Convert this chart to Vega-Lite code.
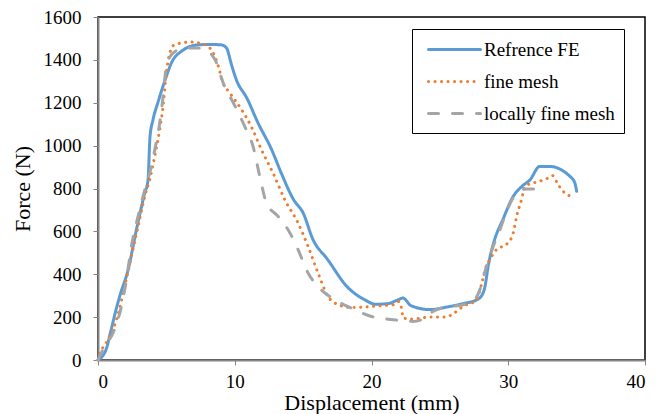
{
  "$schema": "https://vega.github.io/schema/vega-lite/v6.json",
  "autosize": "none",
  "width": 547,
  "height": 343,
  "padding": {"left": 98, "top": 17, "right": 22, "bottom": 54},
  "background": "white",
  "config": {
    "view": {"stroke": "black", "strokeWidth": 1.5},
    "font": "Liberation Serif",
    "axis": {"labelFont": "Liberation Serif", "titleFont": "Liberation Serif"},
    "legend": {"labelFont": "Liberation Serif"}
  },
  "datasets": {
    "all": [
      {"s": "Refrence FE", "x": 0, "y": 0},
      {"s": "Refrence FE", "x": 0.6, "y": 50},
      {"s": "Refrence FE", "x": 0.9, "y": 125},
      {"s": "Refrence FE", "x": 1.3, "y": 230},
      {"s": "Refrence FE", "x": 1.6, "y": 300},
      {"s": "Refrence FE", "x": 2.2, "y": 420},
      {"s": "Refrence FE", "x": 2.8, "y": 605},
      {"s": "Refrence FE", "x": 3.4, "y": 775},
      {"s": "Refrence FE", "x": 3.66, "y": 840},
      {"s": "Refrence FE", "x": 3.72, "y": 920},
      {"s": "Refrence FE", "x": 3.8, "y": 1040},
      {"s": "Refrence FE", "x": 4.02, "y": 1120},
      {"s": "Refrence FE", "x": 4.4, "y": 1205},
      {"s": "Refrence FE", "x": 4.9, "y": 1305},
      {"s": "Refrence FE", "x": 5.4, "y": 1390},
      {"s": "Refrence FE", "x": 6.1, "y": 1440},
      {"s": "Refrence FE", "x": 7.3, "y": 1470},
      {"s": "Refrence FE", "x": 8.2, "y": 1472},
      {"s": "Refrence FE", "x": 9.0, "y": 1470},
      {"s": "Refrence FE", "x": 9.4, "y": 1455},
      {"s": "Refrence FE", "x": 9.75, "y": 1380},
      {"s": "Refrence FE", "x": 10.1, "y": 1310},
      {"s": "Refrence FE", "x": 10.9, "y": 1220},
      {"s": "Refrence FE", "x": 11.7, "y": 1106},
      {"s": "Refrence FE", "x": 12.7, "y": 981},
      {"s": "Refrence FE", "x": 13.4, "y": 872},
      {"s": "Refrence FE", "x": 14.3, "y": 748},
      {"s": "Refrence FE", "x": 15.0, "y": 686},
      {"s": "Refrence FE", "x": 15.7, "y": 565},
      {"s": "Refrence FE", "x": 16.8, "y": 468},
      {"s": "Refrence FE", "x": 18.2, "y": 343},
      {"s": "Refrence FE", "x": 19.5, "y": 281},
      {"s": "Refrence FE", "x": 20.3, "y": 260},
      {"s": "Refrence FE", "x": 21.2, "y": 263},
      {"s": "Refrence FE", "x": 21.95, "y": 281},
      {"s": "Refrence FE", "x": 22.3, "y": 289},
      {"s": "Refrence FE", "x": 22.9, "y": 253},
      {"s": "Refrence FE", "x": 24.3, "y": 235},
      {"s": "Refrence FE", "x": 25.5, "y": 247},
      {"s": "Refrence FE", "x": 26.7, "y": 263},
      {"s": "Refrence FE", "x": 27.7, "y": 281},
      {"s": "Refrence FE", "x": 28.1, "y": 305},
      {"s": "Refrence FE", "x": 28.3, "y": 343},
      {"s": "Refrence FE", "x": 28.53, "y": 437},
      {"s": "Refrence FE", "x": 28.7, "y": 490},
      {"s": "Refrence FE", "x": 29.0, "y": 561},
      {"s": "Refrence FE", "x": 29.6, "y": 654},
      {"s": "Refrence FE", "x": 30.36, "y": 763},
      {"s": "Refrence FE", "x": 31.0, "y": 810},
      {"s": "Refrence FE", "x": 31.6, "y": 841},
      {"s": "Refrence FE", "x": 32.3, "y": 903},
      {"s": "Refrence FE", "x": 33.0, "y": 903},
      {"s": "Refrence FE", "x": 34.5, "y": 857},
      {"s": "Refrence FE", "x": 34.87, "y": 826},
      {"s": "Refrence FE", "x": 35.0, "y": 787},
      {"s": "fine mesh", "x": 0, "y": 0},
      {"s": "fine mesh", "x": 0.12, "y": 25},
      {"s": "fine mesh", "x": 0.73, "y": 95},
      {"s": "fine mesh", "x": 1.35, "y": 188},
      {"s": "fine mesh", "x": 1.95, "y": 343},
      {"s": "fine mesh", "x": 2.44, "y": 483},
      {"s": "fine mesh", "x": 2.93, "y": 623},
      {"s": "fine mesh", "x": 3.42, "y": 763},
      {"s": "fine mesh", "x": 3.78, "y": 841},
      {"s": "fine mesh", "x": 4.15, "y": 950},
      {"s": "fine mesh", "x": 4.51, "y": 1074},
      {"s": "fine mesh", "x": 4.76, "y": 1183},
      {"s": "fine mesh", "x": 5.0, "y": 1339},
      {"s": "fine mesh", "x": 5.25, "y": 1432},
      {"s": "fine mesh", "x": 5.6, "y": 1471},
      {"s": "fine mesh", "x": 6.8, "y": 1483},
      {"s": "fine mesh", "x": 7.8, "y": 1471},
      {"s": "fine mesh", "x": 8.4, "y": 1435},
      {"s": "fine mesh", "x": 8.8, "y": 1370},
      {"s": "fine mesh", "x": 9.1, "y": 1300},
      {"s": "fine mesh", "x": 9.65, "y": 1245},
      {"s": "fine mesh", "x": 10.5, "y": 1168},
      {"s": "fine mesh", "x": 11.2, "y": 1090},
      {"s": "fine mesh", "x": 11.95, "y": 981},
      {"s": "fine mesh", "x": 12.8, "y": 872},
      {"s": "fine mesh", "x": 13.66, "y": 748},
      {"s": "fine mesh", "x": 14.63, "y": 639},
      {"s": "fine mesh", "x": 15.36, "y": 530},
      {"s": "fine mesh", "x": 16.09, "y": 406},
      {"s": "fine mesh", "x": 16.82, "y": 297},
      {"s": "fine mesh", "x": 17.56, "y": 258},
      {"s": "fine mesh", "x": 18.5, "y": 245},
      {"s": "fine mesh", "x": 19.4, "y": 247},
      {"s": "fine mesh", "x": 20.6, "y": 253},
      {"s": "fine mesh", "x": 21.6, "y": 258},
      {"s": "fine mesh", "x": 21.95, "y": 273},
      {"s": "fine mesh", "x": 22.19, "y": 243},
      {"s": "fine mesh", "x": 22.31, "y": 196},
      {"s": "fine mesh", "x": 23.04, "y": 191},
      {"s": "fine mesh", "x": 24.27, "y": 201},
      {"s": "fine mesh", "x": 25.49, "y": 201},
      {"s": "fine mesh", "x": 25.97, "y": 216},
      {"s": "fine mesh", "x": 26.7, "y": 250},
      {"s": "fine mesh", "x": 27.68, "y": 281},
      {"s": "fine mesh", "x": 28.05, "y": 355},
      {"s": "fine mesh", "x": 28.35, "y": 430},
      {"s": "fine mesh", "x": 28.65, "y": 468},
      {"s": "fine mesh", "x": 29.14, "y": 515},
      {"s": "fine mesh", "x": 29.88, "y": 540},
      {"s": "fine mesh", "x": 30.36, "y": 592},
      {"s": "fine mesh", "x": 30.61, "y": 670},
      {"s": "fine mesh", "x": 30.97, "y": 748},
      {"s": "fine mesh", "x": 31.22, "y": 810},
      {"s": "fine mesh", "x": 31.95, "y": 828},
      {"s": "fine mesh", "x": 32.8, "y": 845},
      {"s": "fine mesh", "x": 33.24, "y": 860},
      {"s": "fine mesh", "x": 33.65, "y": 818},
      {"s": "fine mesh", "x": 34.14, "y": 779},
      {"s": "fine mesh", "x": 34.63, "y": 763},
      {"s": "locally fine mesh", "x": 0, "y": 0},
      {"s": "locally fine mesh", "x": 0.49, "y": 64},
      {"s": "locally fine mesh", "x": 1.1, "y": 126},
      {"s": "locally fine mesh", "x": 1.71, "y": 250},
      {"s": "locally fine mesh", "x": 2.08, "y": 374},
      {"s": "locally fine mesh", "x": 2.44, "y": 530},
      {"s": "locally fine mesh", "x": 2.93, "y": 670},
      {"s": "locally fine mesh", "x": 3.42, "y": 794},
      {"s": "locally fine mesh", "x": 3.78, "y": 872},
      {"s": "locally fine mesh", "x": 4.15, "y": 981},
      {"s": "locally fine mesh", "x": 4.51, "y": 1106},
      {"s": "locally fine mesh", "x": 4.76, "y": 1230},
      {"s": "locally fine mesh", "x": 5.0, "y": 1370},
      {"s": "locally fine mesh", "x": 5.49, "y": 1432},
      {"s": "locally fine mesh", "x": 6.34, "y": 1455},
      {"s": "locally fine mesh", "x": 7.32, "y": 1455},
      {"s": "locally fine mesh", "x": 8.05, "y": 1440},
      {"s": "locally fine mesh", "x": 8.6, "y": 1395},
      {"s": "locally fine mesh", "x": 9.2, "y": 1285},
      {"s": "locally fine mesh", "x": 9.9, "y": 1199},
      {"s": "locally fine mesh", "x": 10.73, "y": 1090},
      {"s": "locally fine mesh", "x": 11.34, "y": 996},
      {"s": "locally fine mesh", "x": 11.83, "y": 857},
      {"s": "locally fine mesh", "x": 12.32, "y": 732},
      {"s": "locally fine mesh", "x": 13.17, "y": 670},
      {"s": "locally fine mesh", "x": 13.9, "y": 608},
      {"s": "locally fine mesh", "x": 14.63, "y": 515},
      {"s": "locally fine mesh", "x": 15.36, "y": 406},
      {"s": "locally fine mesh", "x": 16.09, "y": 343},
      {"s": "locally fine mesh", "x": 17.32, "y": 281},
      {"s": "locally fine mesh", "x": 18.6, "y": 240},
      {"s": "locally fine mesh", "x": 20.0, "y": 203},
      {"s": "locally fine mesh", "x": 21.58, "y": 188},
      {"s": "locally fine mesh", "x": 23.04, "y": 180},
      {"s": "locally fine mesh", "x": 23.77, "y": 191},
      {"s": "locally fine mesh", "x": 24.51, "y": 227},
      {"s": "locally fine mesh", "x": 25.49, "y": 247},
      {"s": "locally fine mesh", "x": 26.7, "y": 258},
      {"s": "locally fine mesh", "x": 27.43, "y": 273},
      {"s": "locally fine mesh", "x": 27.92, "y": 328},
      {"s": "locally fine mesh", "x": 28.41, "y": 437},
      {"s": "locally fine mesh", "x": 28.9, "y": 530},
      {"s": "locally fine mesh", "x": 29.26, "y": 585},
      {"s": "locally fine mesh", "x": 29.75, "y": 670},
      {"s": "locally fine mesh", "x": 30.36, "y": 756},
      {"s": "locally fine mesh", "x": 31.34, "y": 798},
      {"s": "locally fine mesh", "x": 32.19, "y": 798}
    ]
  },
  "data": {"name": "all"},
  "mark": {"type": "line", "interpolate": "monotone", "strokeWidth": 3, "strokeCap": "round"},
  "encoding": {
    "x": {
      "field": "x", "type": "quantitative",
      "scale": {"domain": [0, 40], "nice": false},
      "axis": {
        "title": "Displacement (mm)", "values": [0, 10, 20, 30, 40], "format": "d", "grid": false,
        "domainColor": "#868686", "domainWidth": 2, "tickColor": "#868686", "tickWidth": 1, "tickSize": 5,
        "labelFont": "Liberation Serif", "labelFontSize": 19, "labelColor": "black", "labelPadding": 7,
        "titleFont": "Liberation Serif", "titleFontSize": 22, "titleFontWeight": "normal", "titleColor": "black", "titlePadding": 1
      }
    },
    "y": {
      "field": "y", "type": "quantitative",
      "scale": {"domain": [0, 1600], "nice": false},
      "axis": {
        "title": "Force (N)", "values": [0, 200, 400, 600, 800, 1000, 1200, 1400, 1600], "format": "d", "grid": false,
        "domainColor": "#868686", "domainWidth": 2, "tickColor": "#868686", "tickWidth": 1, "tickSize": 5,
        "labelFont": "Liberation Serif", "labelFontSize": 19, "labelColor": "black", "labelPadding": 12,
        "titleFont": "Liberation Serif", "titleFontSize": 22, "titleFontWeight": "normal", "titleColor": "black", "titlePadding": 9
      }
    },
    "color": {
      "field": "s", "type": "nominal", "title": null,
      "sort": ["Refrence FE", "fine mesh", "locally fine mesh"],
      "scale": {"domain": ["Refrence FE", "fine mesh", "locally fine mesh"], "range": ["#5B9BD5", "#ED7D31", "#A5A5A5"]},
      "legend": {
        "orient": "none", "legendX": 314, "legendY": 12,
        "fillColor": "white", "strokeColor": "black", "padding": 9,
        "symbolType": "M-2.6,0H2.6", "symbolSize": 400, "symbolStrokeWidth": 3, "symbolOffset": 22,
        "labelFont": "Liberation Serif", "labelFontSize": 19, "labelColor": "black", "labelOffset": 18,
        "rowPadding": 10, "labelLimit": 300,
        "encode": {"symbols": {"update": {"strokeCap": {"value": "round"}}}}
      }
    },
    "strokeDash": {
      "field": "s", "type": "nominal", "title": null,
      "sort": ["Refrence FE", "fine mesh", "locally fine mesh"],
      "scale": {"domain": ["Refrence FE", "fine mesh", "locally fine mesh"], "range": [[1, 0], [0.1, 6.4], [10, 14]]}
    }
  }
}
